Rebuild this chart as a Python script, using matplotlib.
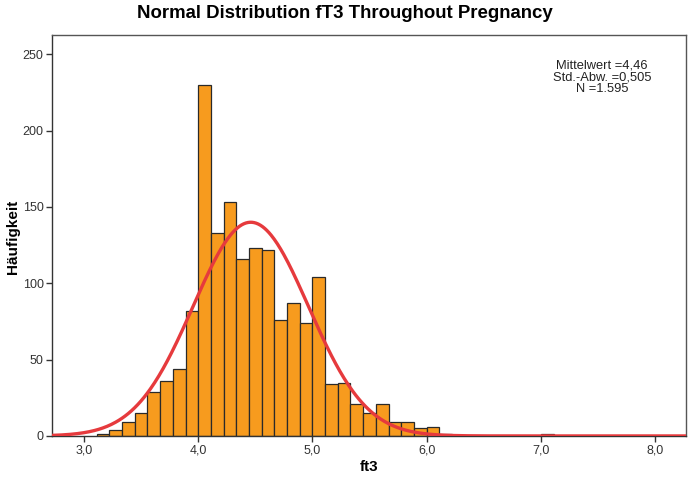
#!/usr/bin/env python3
"""Histogram of fT3 with fitted normal curve (SPSS style)."""
import numpy as np
import matplotlib
matplotlib.use("Agg")
import matplotlib.pyplot as plt
from matplotlib.ticker import FuncFormatter

# histogram: first bin starts at 3 + 1/9, bin width 1/9
BIN_START = 3.0 + 1.0 / 9.0
BIN_WIDTH = 1.0 / 9.0
counts = [1, 4, 9, 15, 29, 36, 44, 82,
          230, 133, 153, 116, 123, 122, 76, 87, 74,
          104, 34, 35, 21, 15, 21, 9, 9, 5,
          6, 1, 0, 0, 0, 0, 0, 0, 0,
          1]

# summary stats shown in the chart
MEAN = 4.46
SD = 0.505
N = 1595

x_ticks = [3.0, 4.0, 5.0, 6.0, 7.0, 8.0]
y_ticks = [0, 50, 100, 150, 200, 250]

plt.rcParams["font.family"] = ["Liberation Sans", "DejaVu Sans"]

fig = plt.figure(figsize=(6.89, 4.86), dpi=100)
ax = fig.add_axes([0.0755, 0.103, 0.92, 0.826])

counts = np.array(counts)
lefts = BIN_START + BIN_WIDTH * np.arange(len(counts))
mask = counts > 0
ax.bar(lefts[mask], counts[mask], width=BIN_WIDTH, align="edge",
       color="#F79B1E", edgecolor="#2a2a2a", linewidth=0.9, zorder=2)

# fitted normal curve scaled to counts
xs = np.linspace(2.72, 8.27, 600)
ys = N * BIN_WIDTH / (SD * np.sqrt(2 * np.pi)) * np.exp(-0.5 * ((xs - MEAN) / SD) ** 2)
ax.plot(xs, ys, color="#E63A3D", linewidth=2.4, zorder=3)

ax.set_xlim(2.72, 8.27)
ax.set_ylim(0, 263)
ax.set_xticks(x_ticks)
ax.set_yticks(y_ticks)
ax.xaxis.set_major_formatter(FuncFormatter(lambda v, p: f"{v:.1f}".replace(".", ",")))
ax.tick_params(axis="both", direction="out", length=4, width=1, color="#333333",
               labelsize=9, labelcolor="#333333", pad=2)

for s in ax.spines.values():
    s.set_color("#555555")
    s.set_linewidth(1.0)
ax.spines["left"].set_color("#333333")
ax.spines["bottom"].set_color("#333333")

fig.text(369 / 689, 1 - 467 / 486, "ft3", fontsize=11, fontweight="bold",
         ha="center", va="center")
fig.text(13 / 689, 1 - 237 / 486, "Häufigkeit", fontsize=11, fontweight="bold",
         rotation=90, ha="center", va="center")
fig.text(0.5, 1 - 14 / 486, "Normal Distribution fT3 Throughout Pregnancy",
         fontsize=13.4, fontweight="bold", ha="center", va="center")

stats = f"Mittelwert ={MEAN:.2f}\nStd.-Abw. ={SD:.3f}\nN ={N:,}".replace(".", ",")
stats = stats.replace("Std,-Abw,", "Std.-Abw.").replace("N =1,595", "N =1.595")
ax.text(0.868, 0.937, stats, transform=ax.transAxes, ha="center", va="top",
        fontsize=9.3, linespacing=0.95, color="#222222")

fig.savefig("out.png", dpi=100)
